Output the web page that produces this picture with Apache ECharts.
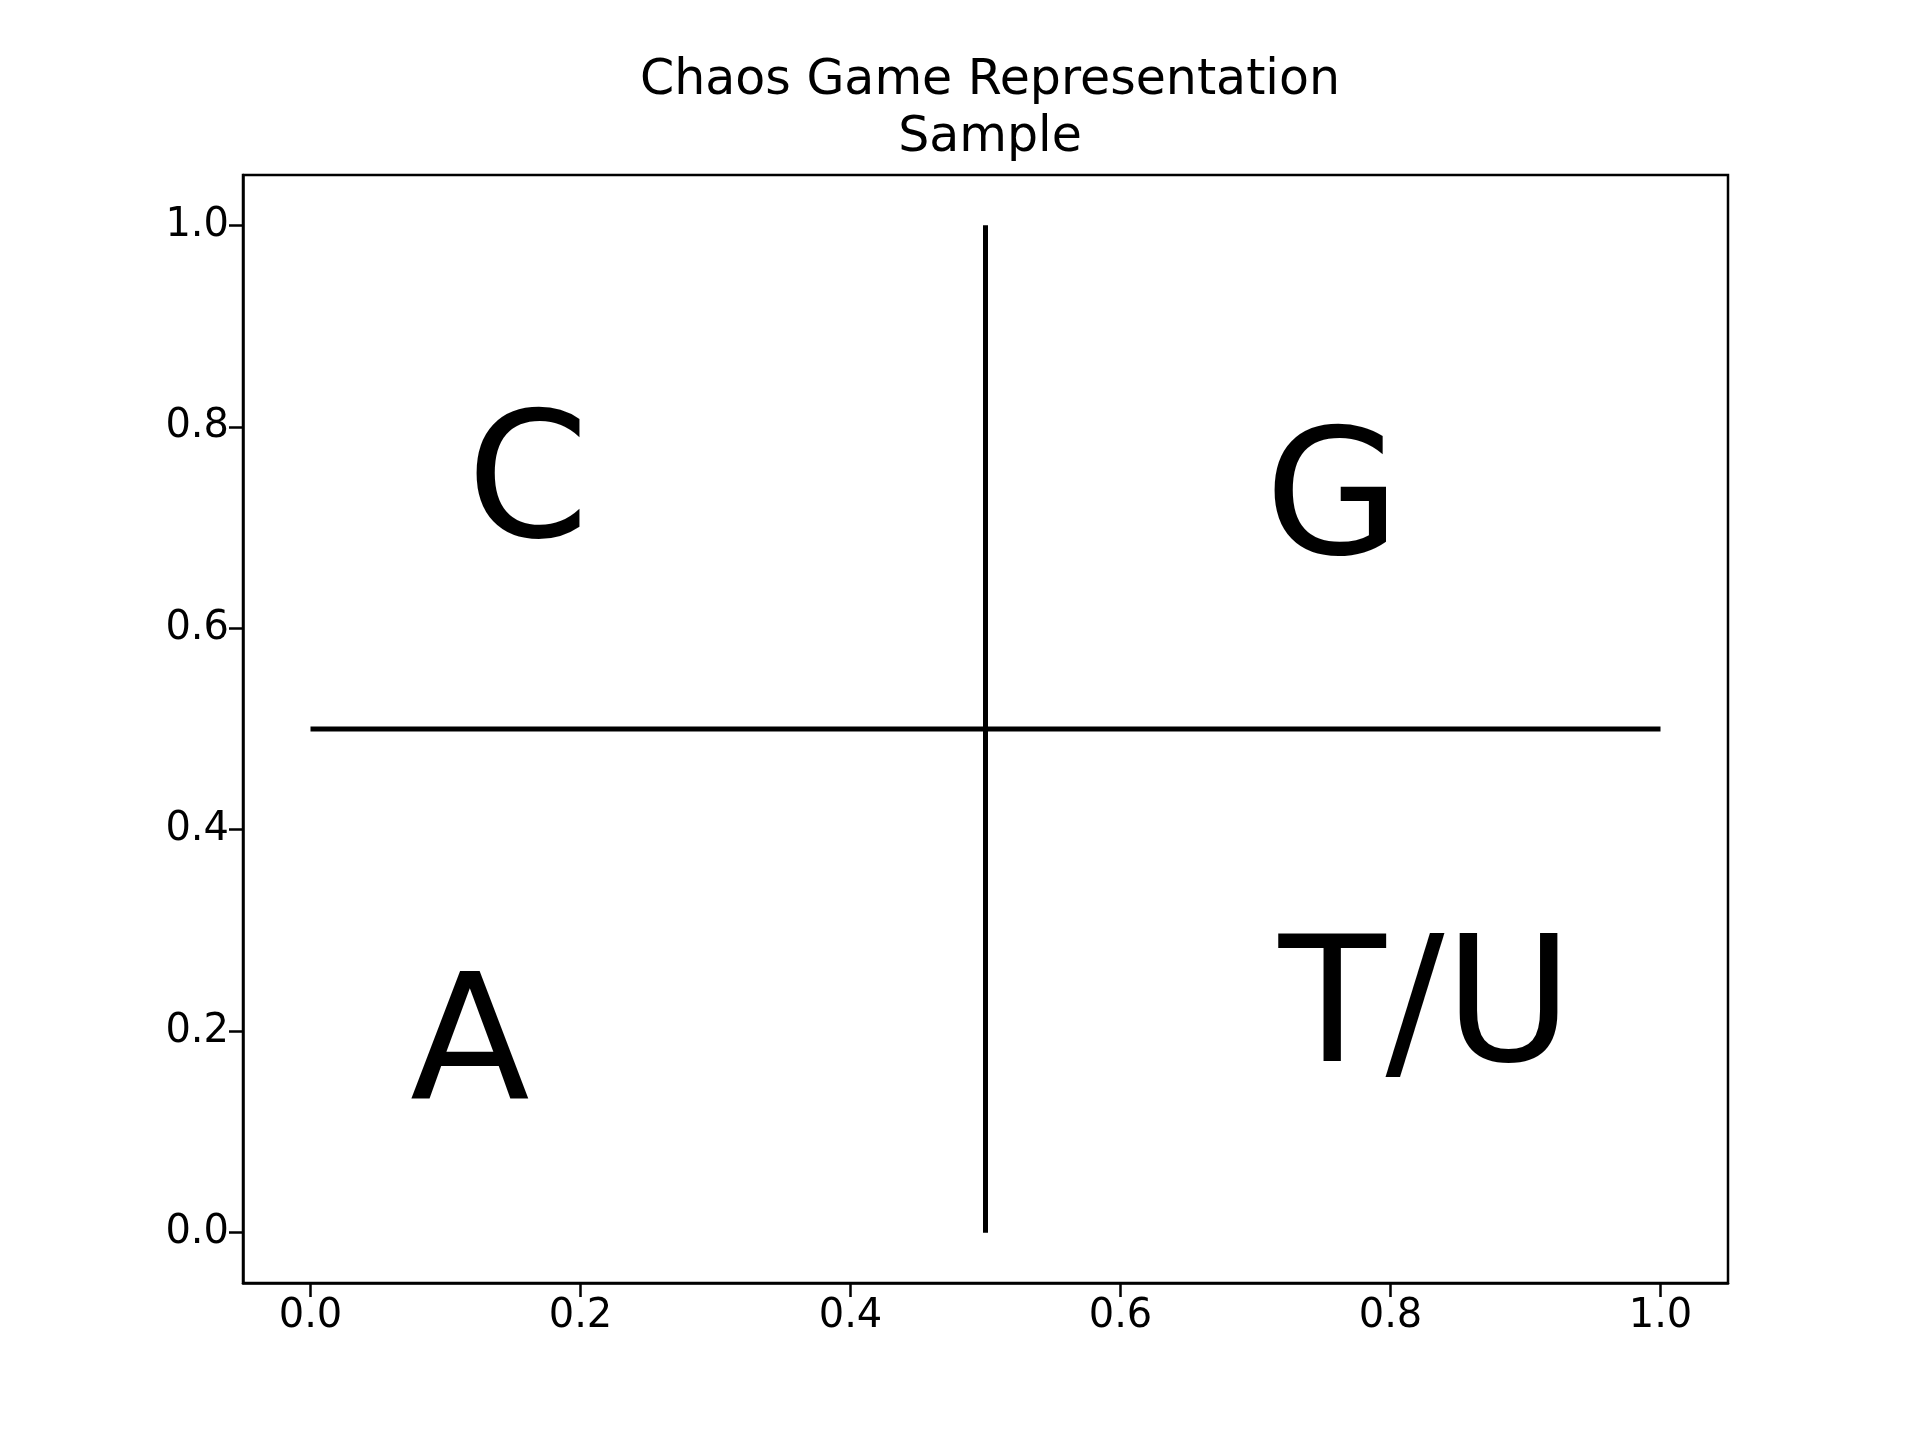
<!DOCTYPE html>
<html><head><meta charset="utf-8">
<script src="https://cdn.jsdelivr.net/npm/echarts@6/dist/echarts.min.js"></script>
<style>html,body{margin:0;background:#fff}#c{width:1920px;height:1440px}</style>
</head><body><div id="c"></div>
<script>
const ticks = [0, 0.2, 0.4, 0.6, 0.8, 1.0];
const hLine = [[0, 0.5], [1, 0.5]];
const vLine = [[0.5, 0], [0.5, 1]];
const letters = ['C', 'G', 'A', 'T/U'];
const letterX = [0.161, 0.757, 0.118, 0.826];
const letterY = [0.736, 0.719, 0.178, 0.216];
const font = 'DejaVu Sans';
const axisCommon = {
  type: 'value', min: -0.05, max: 1.05, splitLine: {show: false},
  axisLine: {show: true, onZero: false, lineStyle: {color: '#000', width: 2.5}},
  axisTick: {show: true, length: 14, customValues: ticks, lineStyle: {color: '#000', width: 2.5}},
  axisLabel: {fontFamily: font, fontSize: 40, color: '#000', margin: 14,
    customValues: ticks, formatter: v => v.toFixed(1)},
};
const chart = echarts.init(document.getElementById('c'));
chart.setOption({
  animation: false,
  title: {text: 'Chaos Game Representation\nSample', left: 985, textAlign: 'center', top: 48,
    textStyle: {fontFamily: font, fontSize: 49, fontWeight: 'normal', color: '#000', lineHeight: 57}},
  grid: {left: 243, right: 192, top: 175, bottom: 157, show: true, borderColor: '#000', borderWidth: 2.5},
  xAxis: axisCommon,
  yAxis: axisCommon,
  series: [
    {type: 'line', data: hLine, symbol: 'none', lineStyle: {color: '#000', width: 5}},
    {type: 'line', data: vLine, symbol: 'none', lineStyle: {color: '#000', width: 5}},
    {type: 'scatter', symbolSize: 0, itemStyle: {opacity: 1},
      data: letters.map((l, i) => ({value: [letterX[i], letterY[i]], name: l})),
      label: {show: true, position: 'inside', formatter: p => p.name, fontFamily: font,
        fontSize: 175, color: '#000', opacity: 1, align: 'center', verticalAlign: 'middle'}}
  ]
});
</script></body></html>
